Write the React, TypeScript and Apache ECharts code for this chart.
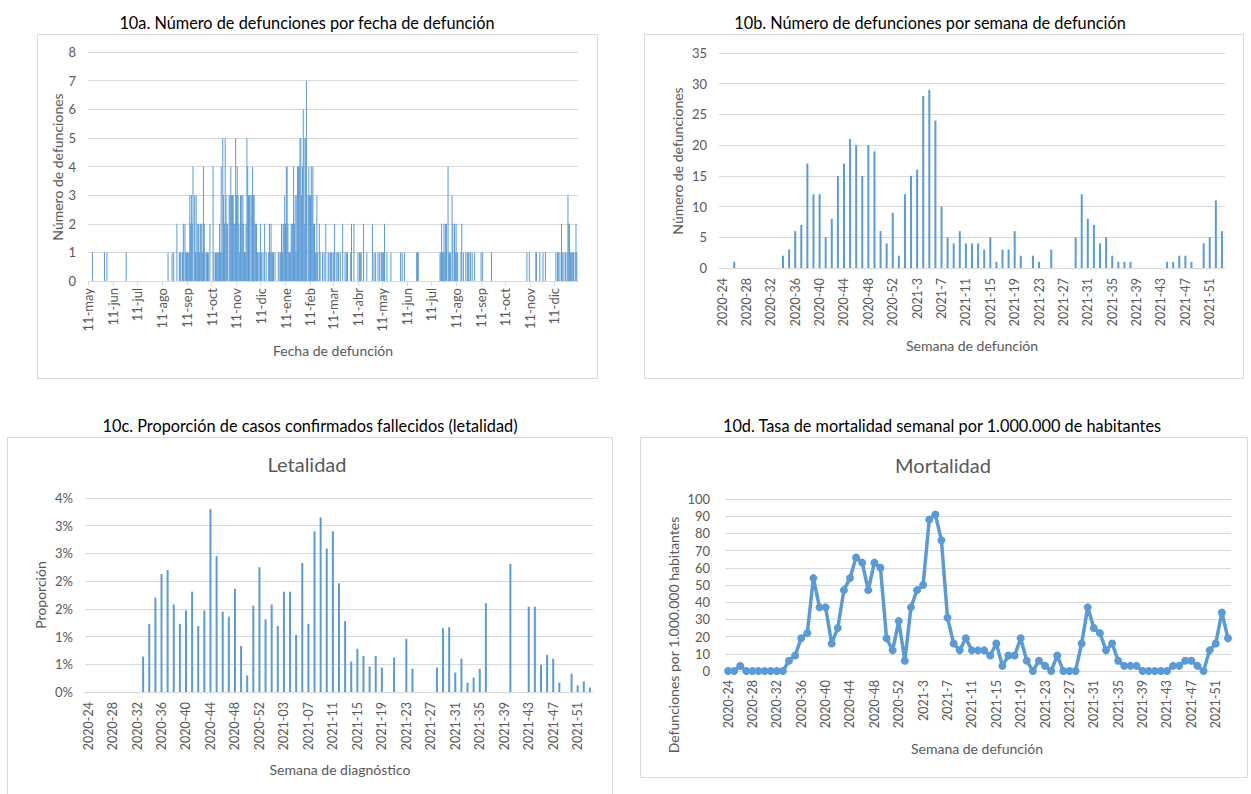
import React, { useEffect, useRef } from "react";
import * as echarts from "echarts";

const FONT = "Lato, 'Open Sans', sans-serif";
const BLUE = "#5b9bd5";
const GRID_COLOR = "#d9d9d9";
const LABEL_COLOR = "#595959";

// ---------- 10a: daily deaths (day 0 = 2020-05-11) ----------
const monthAbbr = ["ene", "feb", "mar", "abr", "may", "jun", "jul", "ago", "sep", "oct", "nov", "dic"];
const dailyStart = "2020-05-11";
// May 11 – Jun 7 2020
const dailyBeforeWeek24 = [0, 0, 0, 0, 0, 1, 0, 0, 0, 0, 0, 0, 0, 0, 0, 0, 0, 0, 0, 0, 1, 0, 0, 1, 0, 0, 0, 0];
// one string per ISO week (Mon..Sun), weeks 2020-24 .. 2020-53
const dailyWeeks2020 = [
  "0000000", "0000000", "0000010", "0000000", "0000000", "0000000", "0000000", "0000000", "0000000", "0000000",
  "0100001", "0100020", "0111012", "0211111", "3232403", "1312212", "2214210", "1110200", "0410111", "1121415",
  "3253220", "3343332", "2534321", "3323211", "2543330", "3433222", "1101210", "1020100", "1212111", "0100010",
];
// weeks 2021-1 .. 2021-52
const dailyWeeks2021 = [
  "1121223", "2442111", "2224231", "3444553", "4652570", "3433434", "2211310", "2100101", "0200110", "1101120",
  "1011010", "0200101", "1000120", "0200001", "0111002", "0001000", "0002010", "1001010", "1111200", "1000010",
  "0000000", "0001010", "0100000", "0000000", "0011100", "0000000", "0000000", "0000000", "0001121", "1212204",
  "1110320", "2121100", "0120100", "1011101", "0100100", "0000010", "1000000", "0000100", "0000000", "0000000",
  "0000000", "0000000", "0000000", "0000001", "0010000", "0001100", "0100010", "0100000", "0000000", "1011010",
  "2101010", "1322111",
];
// week 2022-1
const dailyWeeks2022 = ["1101210"];

// ---------- weekly categories ----------
const weeks2020 = { year: 2020, from: 24, to: 53 };
const weeks2021 = { year: 2021, from: 1, to: 52 };
const weeks2022 = { year: 2022, from: 1, to: 1 };

// ---------- 10b: weekly deaths ----------
const weeklyDeaths = [
  0, 0, 1, 0, 0, 0, 0, 0, 0, 0,
  2, 3, 6, 7, 17, 12, 12, 5, 8, 15,
  17, 21, 20, 15, 20, 19, 6, 4, 9, 2,
  12, 15, 16, 28, 29, 24, 10, 5, 4, 6,
  4, 4, 4, 3, 5, 1, 3, 3, 6, 2,
  0, 2, 1, 0, 3, 0, 0, 0, 5, 12,
  8, 7, 4, 5, 2, 1, 1, 1, 0, 0,
  0, 0, 0, 1, 1, 2, 2, 1, 0, 4,
  5, 11, 6,
];

// ---------- 10c: lethality (%) by diagnosis week ----------
const lethalityPct = [
  null, null, null, null, null, null, null, null, null, 0.64,
  1.23, 1.70, 2.13, 2.20, 1.58, 1.23, 1.47, 1.81, 1.19, 1.47,
  3.30, 2.45, 1.45, 1.36, 1.86, 0.83, 0.30, 1.56, 2.25, 1.31,
  1.58, 1.19, 1.81, 1.81, 1.03, 2.33, 1.23, 2.90, 3.15, 2.59,
  2.90, 1.96, 1.28, 0.55, 0.78, 0.65, 0.46, 0.65, 0.44, null,
  0.62, null, 0.96, 0.42, null, null, null, 0.44, 1.15, 1.17,
  0.35, 0.60, 0.17, 0.26, 0.42, 1.60, null, null, null, 2.31,
  null, null, 1.54, 1.54, 0.49, 0.67, 0.60, 0.17, null, 0.33,
  0.12, 0.19, 0.08,
];

// ---------- 10d: weekly mortality per 1,000,000 ----------
const mortalityPerMillion = [
  0, 0, 3, 0, 0, 0, 0, 0, 0, 0,
  6, 9, 19, 22, 54, 37, 37, 16, 25, 47,
  54, 66, 63, 47, 63, 60, 19, 12, 29, 6,
  37, 47, 50, 88, 91, 76, 31, 16, 12, 19,
  12, 12, 12, 9, 16, 3, 9, 9, 19, 6,
  0, 6, 3, 0, 9, 0, 0, 0, 16, 37,
  25, 22, 12, 16, 6, 3, 3, 3, 0, 0,
  0, 0, 0, 3, 3, 6, 6, 3, 0, 12,
  16, 34, 19,
];

// ---------- helpers ----------
function buildDailyValues(): number[] {
  const weeks = [...dailyWeeks2020, ...dailyWeeks2021, ...dailyWeeks2022];
  return [...dailyBeforeWeek24, ...weeks.flatMap((s) => s.split("").map(Number))];
}

function buildDailyCategories(n: number): string[] {
  const [y, m, d] = dailyStart.split("-").map(Number);
  const t0 = Date.UTC(y, m - 1, d);
  const out: string[] = [];
  for (let i = 0; i < n; i++) {
    out.push(new Date(t0 + i * 86400000).toISOString().slice(0, 10));
  }
  return out;
}

function buildWeekCategories(): string[] {
  const out: string[] = [];
  for (const r of [weeks2020, weeks2021, weeks2022]) {
    for (let w = r.from; w <= r.to; w++) out.push(`${r.year}-${w}`);
  }
  return out;
}

const isEleventh = (_i: number, v: string) => v.slice(8, 10) === "11";
const fmtDay = (v: string) => `11-${monthAbbr[Number(v.slice(5, 7)) - 1]}`;

function border(x: number, y: number, w: number, h: number) {
  return {
    type: "rect",
    silent: true,
    shape: { x: x + 0.5, y: y + 0.5, width: w, height: h },
    style: { fill: "none", stroke: GRID_COLOR, lineWidth: 1 },
  };
}

function txt(text: string, x: number, y: number, size: number, color: string, rotate = false) {
  return {
    type: "text",
    silent: true,
    x,
    y,
    rotation: rotate ? Math.PI / 2 : 0,
    style: {
      text,
      fill: color,
      fontSize: size,
      fontFamily: FONT,
      textAlign: "center",
      textVerticalAlign: "middle",
    },
  };
}

function buildOption() {
  const daily = buildDailyValues();
  const days = buildDailyCategories(daily.length);
  const weeks = buildWeekCategories();

  const valueAxisBase = {
    type: "value",
    axisLine: { show: false },
    axisTick: { show: false },
    splitLine: { lineStyle: { color: GRID_COLOR, width: 1 } },
    axisLabel: { color: LABEL_COLOR, fontSize: 13, fontFamily: FONT, margin: 12 },
  };

  const weekAxis = (gridIndex: number, fmt?: (v: string) => string, margin = 9) => ({
    gridIndex,
    type: "category",
    data: weeks,
    boundaryGap: true,
    axisLine: { lineStyle: { color: GRID_COLOR } },
    axisTick: { show: false },
    axisLabel: {
      interval: 3,
      rotate: 90,
      color: LABEL_COLOR,
      fontSize: 12.5,
      fontFamily: FONT,
      margin,
      formatter: fmt,
    },
  });

  return {
    animation: false,
    backgroundColor: "#ffffff",
    textStyle: { fontFamily: FONT },
    grid: [
      { left: 88, top: 52, width: 490, height: 229 },
      { left: 719, top: 53, width: 506, height: 215 },
      { left: 85, top: 498, width: 508, height: 194 },
      { left: 725, top: 499, width: 506, height: 172 },
    ],
    xAxis: [
      {
        gridIndex: 0,
        type: "category",
        data: days,
        boundaryGap: true,
        axisLine: { lineStyle: { color: GRID_COLOR } },
        axisTick: { show: true, interval: isEleventh, alignWithLabel: true, length: 5, lineStyle: { color: GRID_COLOR } },
        axisLabel: {
          interval: isEleventh,
          rotate: 90,
          formatter: fmtDay,
          color: LABEL_COLOR,
          fontSize: 13,
          fontFamily: FONT,
          margin: 7,
        },
      },
      weekAxis(1, undefined, 10),
      weekAxis(2, (v: string) => v.replace(/-(\d)$/, "-0$1"), 10),
      weekAxis(3, undefined, 9),
    ],
    yAxis: [
      { ...valueAxisBase, gridIndex: 0, min: 0, max: 8, interval: 1 },
      { ...valueAxisBase, gridIndex: 1, min: 0, max: 35, interval: 5 },
      {
        ...valueAxisBase,
        gridIndex: 2,
        min: 0,
        max: 3.5,
        interval: 0.5,
        axisLabel: { ...valueAxisBase.axisLabel, formatter: (v: number) => `${Math.round(v)}%` },
      },
      { ...valueAxisBase, gridIndex: 3, min: 0, max: 100, interval: 10, axisLabel: { ...valueAxisBase.axisLabel, margin: 15 } },
    ],
    series: [
      {
        type: "bar",
        xAxisIndex: 0,
        yAxisIndex: 0,
        data: daily,
        barCategoryGap: "0%",
        itemStyle: { color: BLUE },
        silent: true,
      },
      {
        type: "bar",
        xAxisIndex: 1,
        yAxisIndex: 1,
        data: weeklyDeaths,
        barWidth: 2,
        itemStyle: { color: BLUE },
        silent: true,
      },
      {
        type: "bar",
        xAxisIndex: 2,
        yAxisIndex: 2,
        data: lethalityPct,
        barWidth: 2,
        itemStyle: { color: BLUE },
        silent: true,
      },
      {
        type: "line",
        xAxisIndex: 3,
        yAxisIndex: 3,
        data: mortalityPerMillion,
        symbol: "circle",
        symbolSize: 8,
        showSymbol: true,
        showAllSymbol: true,
        lineStyle: { color: BLUE, width: 3.5 },
        itemStyle: { color: BLUE },
        silent: true,
      },
    ],
    graphic: [
      border(37, 34, 560, 344),
      border(644, 34, 599, 344),
      border(7, 437, 605, 370),
      border(640, 437, 607, 340),
      txt("10a. Número de defunciones por fecha de defunción", 307, 22, 16.3, "#000000"),
      txt("10b. Número de defunciones por semana de defunción", 930, 22, 16.3, "#000000"),
      txt("10c. Proporción de casos confirmados fallecidos (letalidad)", 310, 425, 16.3, "#000000"),
      txt("10d. Tasa de mortalidad semanal por 1.000.000 de habitantes", 942, 425, 16.3, "#000000"),
      txt("Letalidad", 307, 464, 20, LABEL_COLOR),
      txt("Mortalidad", 943, 465, 20, LABEL_COLOR),
      txt("Número de defunciones", 57, 167, 14, LABEL_COLOR, true),
      txt("Fecha de defunción", 333, 350, 14, LABEL_COLOR),
      txt("Número de defunciones", 677, 161, 14, LABEL_COLOR, true),
      txt("Semana de defunción", 972, 345, 14, LABEL_COLOR),
      txt("Proporción", 40, 595, 14, LABEL_COLOR, true),
      txt("Semana de diagnóstico", 340, 769, 14, LABEL_COLOR),
      txt("Defunciones por 1.000.000 habitantes", 673, 635, 14, LABEL_COLOR, true),
      txt("Semana de defunción", 977, 748, 14, LABEL_COLOR),
    ],
  };
}

export default function App() {
  const ref = useRef<HTMLDivElement>(null);
  useEffect(() => {
    if (!ref.current) return;
    const chart = echarts.init(ref.current, null, { renderer: "svg" });
    chart.setOption(buildOption() as any);
    return () => chart.dispose();
  }, []);
  return (
    <div
      ref={ref}
      style={{ position: "absolute", left: 0, top: 0, width: 1251, height: 794, background: "#ffffff" }}
    />
  );
}
